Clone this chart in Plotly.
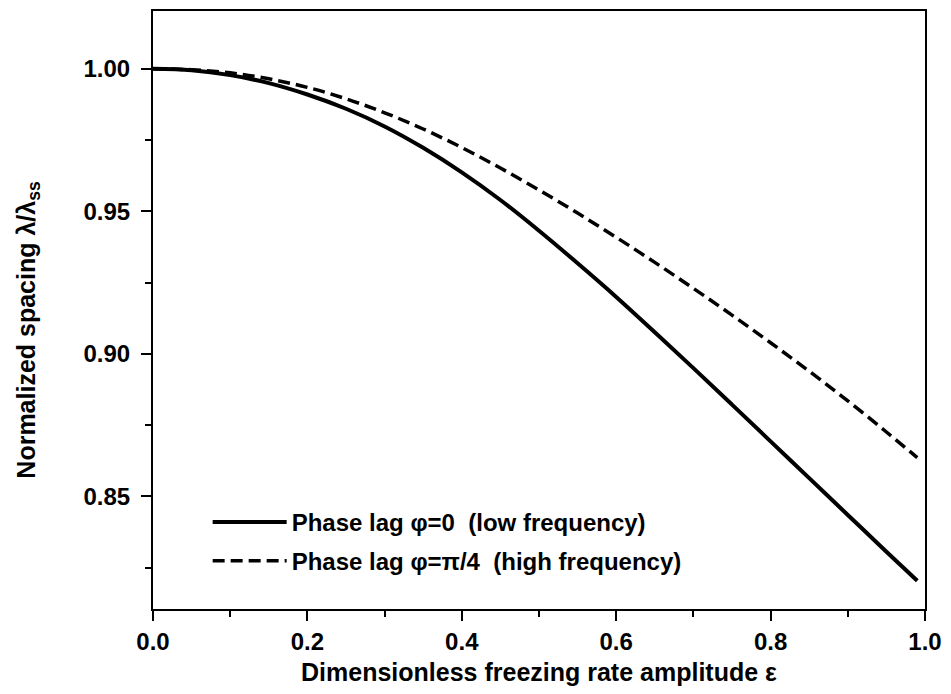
import plotly.graph_objects as go

# dimensionless freezing rate amplitude
eps = [0.0, 0.05, 0.1, 0.15, 0.2, 0.25, 0.3, 0.35, 0.4, 0.45, 0.5, 0.55, 0.6,
       0.65, 0.7, 0.75, 0.8, 0.85, 0.9, 0.95, 0.99]

# phase lag 0 (low frequency)
spacing_lag0 = [1.0, 0.9995, 0.9978, 0.9950, 0.9910, 0.9860, 0.9798, 0.9723,
                0.9637, 0.9540, 0.9432, 0.9318, 0.9200, 0.9076, 0.8950,
                0.8822, 0.8693, 0.8564, 0.8435, 0.8306, 0.8204]

# phase lag pi/4 (high frequency)
spacing_lag45 = [1.0, 0.9997, 0.9986, 0.9965, 0.9935, 0.9895, 0.9846, 0.9789,
                 0.9724, 0.9652, 0.9575, 0.9494, 0.9409, 0.9321, 0.9230,
                 0.9136, 0.9039, 0.8939, 0.8835, 0.8726, 0.8636]

FONT = "Liberation Sans"
bold = dict(family=FONT, size=24, color='black', weight='bold')
bold_title = dict(bold, size=25)

fig = go.Figure()

fig.add_trace(go.Scatter(x=eps, y=spacing_lag0,
                         mode='lines', line_shape='spline',
                         line=dict(color='black', width=4),
                         name="Phase lag φ=0  (low frequency)",
                         showlegend=True, legend='legend'))
fig.add_trace(go.Scatter(x=eps, y=spacing_lag45,
                         mode='lines', line_shape='spline',
                         line=dict(color='black', width=3.5, dash='12px,6px'),
                         name="Phase lag φ=π/4  (high frequency)",
                         showlegend=True, legend='legend2'))

axis_common = dict(showline=True, linecolor='black', linewidth=2, mirror=True,
                   ticks='outside', ticklen=10, tickwidth=2, tickcolor='black',
                   showgrid=False, zeroline=False, tickfont=bold)

fig.update_xaxes(range=[0, 1], dtick=0.2, tickformat='.1f',
                 ticklabeloverflow='allow',
                 minor=dict(ticks='outside', ticklen=6, tickwidth=2,
                            tickcolor='black', dtick=0.1),
                 title=dict(text="Dimensionless freezing rate amplitude ε",
                            font=bold_title, standoff=12),
                 **axis_common)
fig.update_yaxes(range=[0.8105, 1.0203], tick0=0.85, dtick=0.05,
                 tickformat='.2f', ticklabelstandoff=6,
                 minor=dict(ticks='outside', ticklen=6, tickwidth=2,
                            tickcolor='black', dtick=0.025, tick0=0.825),
                 **axis_common)

# y title placed as annotation (sits a bit below the plot centre)
fig.add_annotation(text="Normalized spacing λ/λ<sub>ss</sub>",
                   xref='paper', yref='paper', x=-0.162, y=0.467,
                   xanchor='center', yanchor='middle', textangle=-90,
                   showarrow=False, font=bold_title)

legend_common = dict(xanchor='left', yanchor='middle', x=0.0708,
                     bgcolor='rgba(0,0,0,0)', itemwidth=74,
                     font=bold)

fig.update_layout(width=935, height=678,
                  margin=dict(l=145, r=13, t=1, b=77),
                  plot_bgcolor='white', paper_bgcolor='white',
                  showlegend=True,
                  legend=dict(y=0.145, **legend_common),
                  legend2=dict(y=0.08, **legend_common))

fig.write_html("out.html")
